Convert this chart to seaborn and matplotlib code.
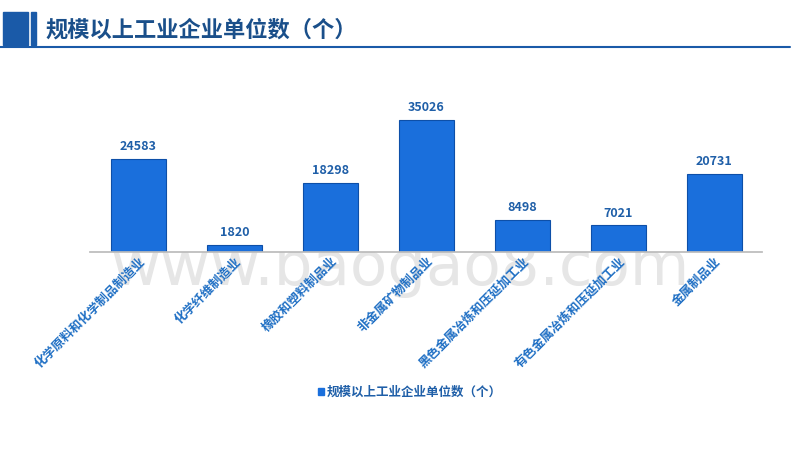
import matplotlib
matplotlib.use("Agg")
import matplotlib.pyplot as plt
import seaborn as sns
import pandas as pd
from matplotlib.patches import Rectangle
from matplotlib.lines import Line2D

categories = ["化学原料和化学制品制造业", "化学纤维制造业", "橡胶和塑料制品业", "非金属矿物制品业",
              "黑色金属冶炼和压延加工业", "有色金属冶炼和压延加工业", "金属制品业"]
values = [24583, 1820, 18298, 35026, 8498, 7021, 20731]
title = "规模以上工业企业单位数（个）"

sns.set_theme(style="white")
plt.rcParams['font.family'] = ['Noto Sans CJK SC', 'DejaVu Sans']

fig = plt.figure(figsize=(8, 4.5), dpi=100)
ax = fig.add_axes([0.113, 0.44, 0.84, 0.336])
df = pd.DataFrame({"cat": categories, "val": values})
sns.barplot(data=df, x="cat", y="val", color="#1a6fdc", width=0.57, ax=ax,
            edgecolor="#0d4fa8", linewidth=0.8, saturation=1)
ax.set_ylim(0, 40000)
ax.set_yticks([])
ax.set_xlabel(""); ax.set_ylabel("")
for s in ["top", "right", "left"]:
    ax.spines[s].set_visible(False)
ax.spines["bottom"].set_color("#bbbbbb")
ax.tick_params(axis="x", length=0, pad=2)
ax.set_xticks(range(len(categories)))
ax.set_xticklabels(categories, rotation=45, ha="right", rotation_mode="anchor",
                   color="#1f6fc4", fontsize=9, fontweight="bold")
for i, v in enumerate(values):
    ax.text(i, v + 1500, str(v), ha="center", va="bottom", color="#1f5fa8",
            fontsize=9, fontweight="bold")

# title decoration
fig.patches.append(Rectangle((3/800, 1-45/450), 25/800, 33/450, transform=fig.transFigure, color="#1a5aa8"))
fig.patches.append(Rectangle((31/800, 1-45/450), 5/800, 33/450, transform=fig.transFigure, color="#1a5aa8"))
fig.lines.append(Line2D([0, 790/800], [1-47/450, 1-47/450], transform=fig.transFigure, color="#1a5aa8", lw=1.5))
fig.text(45/800, 1-30/450, title, fontsize=16, color="#1a4f8a", fontweight="bold", va="center")

# watermark
fig.text(0.5, 1-268/450, "www.baogao8.com", fontsize=44, color="#e6e6e6", ha="center", va="center",
         family="DejaVu Sans", zorder=-1)

# legend
fig.patches.append(Rectangle((318/800, 1-395/450), 6/800, 7/450, transform=fig.transFigure, color="#1a6fdc"))
fig.text(327/800, 1-392/450, title, fontsize=9, color="#1f5fa8", fontweight="bold", va="center")

fig.savefig("out.png", dpi=100)
